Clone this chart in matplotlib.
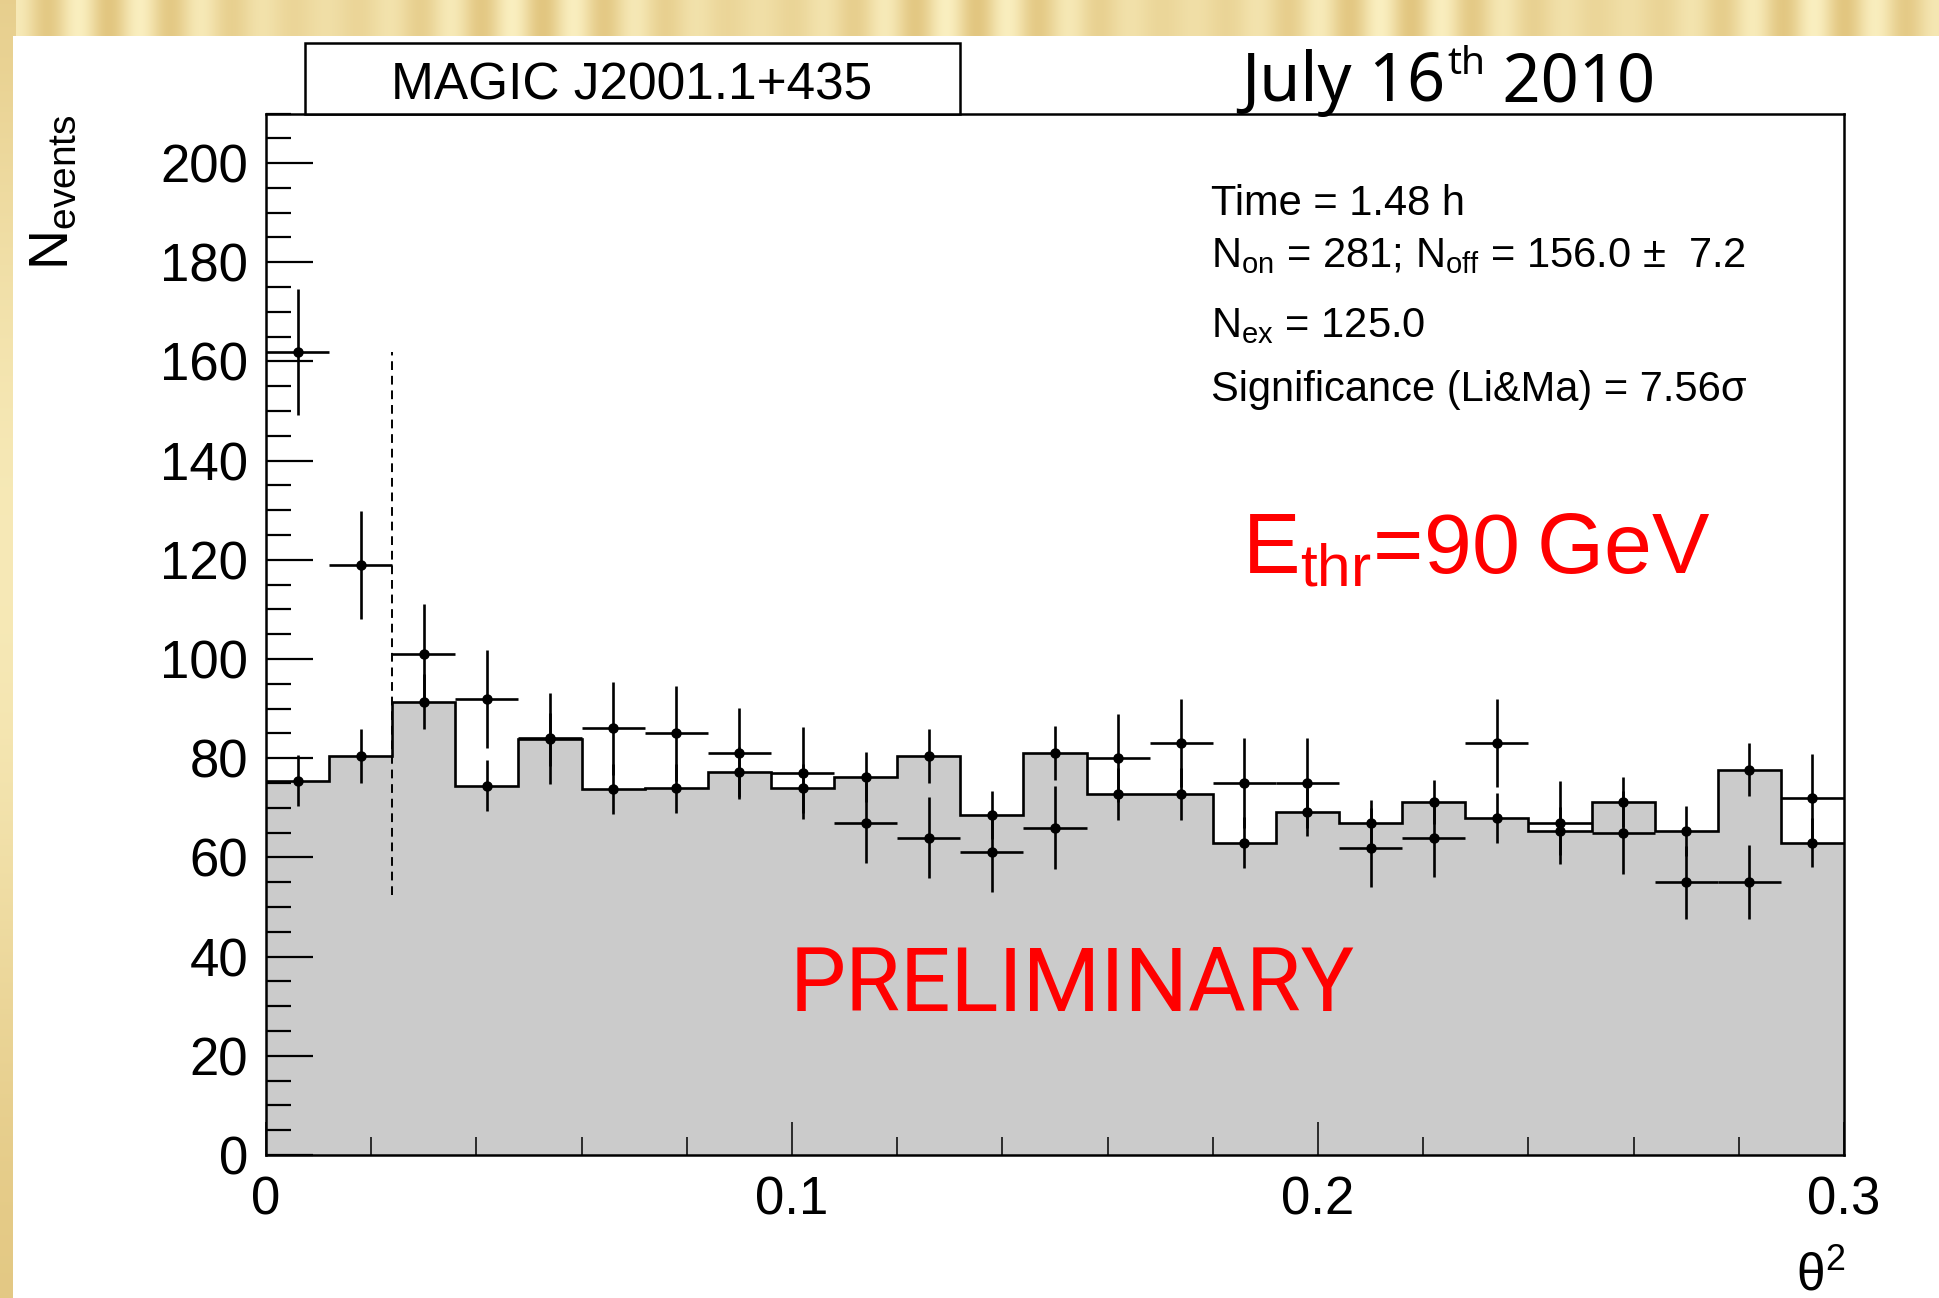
import numpy as np
import matplotlib
import matplotlib.pyplot as plt
from matplotlib.patches import Rectangle
from matplotlib.ticker import MultipleLocator, FuncFormatter

plt.rcParams['font.family'] = ['Liberation Sans', 'DejaVu Sans']
plt.rcParams['mathtext.fontset'] = 'custom'
plt.rcParams['mathtext.rm'] = 'Liberation Sans'
plt.rcParams['mathtext.it'] = 'Liberation Sans:italic'
plt.rcParams['mathtext.bf'] = 'Liberation Sans:bold'

# theta^2 binning: 25 bins of 0.012
bin_edges = np.linspace(0.0, 0.3, 26)

# ON events (points) and their errors
on_counts = [162, 119, 101, 92, 84, 86, 85, 81, 77, 67, 64, 61, 66,
             80, 83, 75, 75, 62, 64, 83, 67, 65, 55, 55, 72]
on_err = [12.7, 10.9, 10.0, 9.9, 9.2, 9.4, 9.5, 9.2, 9.2, 8.2, 8.1, 7.9, 8.4,
          8.9, 8.9, 9.0, 9.0, 7.9, 8.0, 8.9, 8.4, 8.4, 7.4, 7.5, 8.9]

# normalised OFF events (grey histogram) and their errors
off_counts = [75.5, 80.5, 91.4, 74.5, 83.8, 73.8, 73.9, 77.2, 73.9, 76.2, 80.5, 68.5, 81.0,
              72.8, 72.8, 63.0, 69.1, 66.9, 71.2, 67.9, 65.3, 71.2, 65.3, 77.7, 63.0]
off_err = [5.1, 5.4, 5.6, 5.1, 5.3, 5.0, 5.0, 5.0, 5.0, 5.0, 5.4, 4.8, 5.4,
           5.2, 5.2, 5.1, 4.8, 4.6, 4.5, 5.0, 4.8, 5.0, 5.0, 5.3, 5.0]

theta2_cut = 0.024
cut_line_range = [52.5, 162.0]

stats_lines = ['Time = 1.48 h',
               'N$_{\\rm on}$ = 281; N$_{\\rm off}$ = 156.0 \u00b1  7.2',
               'N$_{\\rm ex}$ = 125.0',
               'Significance (Li&Ma) = 7.56\u03c3']

W, H = 1940, 1298
fig = plt.figure(figsize=(W / 100, H / 100), dpi=100)


def px(x, y):
    # pixel position (from top-left) -> figure fraction
    return x / W, 1 - y / H


# slide background: golden stripes with a white panel
bg = fig.add_axes([0, 0, 1, 1])
xx = np.arange(W)
yy = np.arange(H)
stripe = 0.5 + 0.5 * np.sin(2 * np.pi * xx / 62.0) * (0.6 + 0.4 * np.sin(2 * np.pi * xx / 430.0))
t = np.tile(stripe, (H, 1))
t[:, :16] = (0.45 + 0.4 * np.cos(2 * np.pi * (yy - 560) / 1600.0))[:, None]
light = np.array([250, 239, 192]) / 255
dark = np.array([226, 198, 128]) / 255
img = light[None, None, :] * t[:, :, None] + dark[None, None, :] * (1 - t[:, :, None])
bg.imshow(img, extent=[0, W, H, 0], aspect='auto', interpolation='bilinear')
bg.add_patch(Rectangle((13, 36), W - 13, H - 36, facecolor='white', edgecolor='none'))
bg.set_xlim(0, W)
bg.set_ylim(H, 0)
bg.axis('off')

# main axes
left, top = px(266, 113.5)
right, bottom = px(1844, 1155)
ax = fig.add_axes([left, bottom, right - left, top - bottom])

centers = 0.5 * (bin_edges[:-1] + bin_edges[1:])
half = 0.5 * np.diff(bin_edges)

ax.stairs(off_counts, bin_edges, fill=True, facecolor='#cbcbcb', edgecolor='none', zorder=1)
ax.stairs(off_counts, bin_edges, fill=False, baseline=None, color='black', lw=1.9, zorder=2)
ax.errorbar(centers, off_counts, yerr=off_err, fmt='o', color='black', ms=6.5,
            elinewidth=1.9, capsize=0, zorder=3)
ax.errorbar(centers, on_counts, xerr=half, yerr=on_err, fmt='o', color='black', ms=6.5,
            elinewidth=1.9, capsize=0, zorder=3)
ax.plot([theta2_cut, theta2_cut], cut_line_range, color='black', lw=1.4,
        ls=(0, (4.5, 3)), zorder=3)

ax.set_xlim(0, 0.3)
ax.set_ylim(0, 210)
ax.xaxis.set_major_locator(MultipleLocator(0.1))
ax.xaxis.set_minor_locator(MultipleLocator(0.02))
ax.yaxis.set_major_locator(MultipleLocator(20))
ax.yaxis.set_minor_locator(MultipleLocator(5))
ax.xaxis.set_major_formatter(FuncFormatter(lambda v, p: '%g' % round(v, 3)))
ax.tick_params(axis='y', which='major', direction='in', length=34, width=1.6,
               labelsize=38, pad=13)
ax.tick_params(axis='y', which='minor', direction='in', length=18, width=1.6)
ax.tick_params(axis='x', which='major', direction='in', length=24, width=1.1,
               labelsize=38, pad=15)
ax.tick_params(axis='x', which='minor', direction='in', length=13, width=1.1)
for s in ax.spines.values():
    s.set_linewidth(1.8)

# axis titles
fig.text(*px(28, 114), 'N$_{\\rm events}$', rotation=90, ha='left', va='top', fontsize=40)
fig.text(*px(1845, 1252), '\u03b8$^{2}$', ha='right', va='top', fontsize=37)

# title box
x0, y0 = px(305, 113.5)
x1, y1 = px(960, 43)
fig.patches.append(Rectangle((x0, y0), x1 - x0, y1 - y0, transform=fig.transFigure,
                             facecolor='white', edgecolor='black', lw=1.8, zorder=5))
fig.text(*px(632, 99), 'MAGIC J2001.1+435', ha='center', va='baseline', fontsize=37, zorder=6)

# statistics box
for line, yb in zip(stats_lines, [215, 267, 337, 401]):
    fig.text(*px(1211, yb), line, ha='left', va='baseline', fontsize=30)

# date with superscript
renderer = fig.canvas.get_renderer()
date_font = ['Noto Sans', 'DejaVu Sans']
t1 = fig.text(*px(1241, 101), 'July 16', ha='left', va='baseline', fontsize=48,
              family=date_font)
e1 = t1.get_window_extent(renderer)
t2 = fig.text((e1.x1 + 2) / W, 1 - 74 / H, 'th', ha='left', va='baseline', fontsize=28,
              family=date_font)
e2 = t2.get_window_extent(renderer)
fig.text(e2.x1 / W, 1 - 101 / H, ' 2010', ha='left', va='baseline', fontsize=48,
         family=date_font)

# red annotations
fig.text(*px(1242, 573), 'E$_{\\rm thr}$=90\u2009GeV', ha='left', va='baseline', fontsize=62,
         color='#ff0000')
fig.text(*px(790, 1011), 'PRELIMINARY', ha='left', va='baseline', fontsize=64,
         color='#ff0000', family=['Roboto', 'DejaVu Sans'])

fig.savefig('out.png', dpi=100)
